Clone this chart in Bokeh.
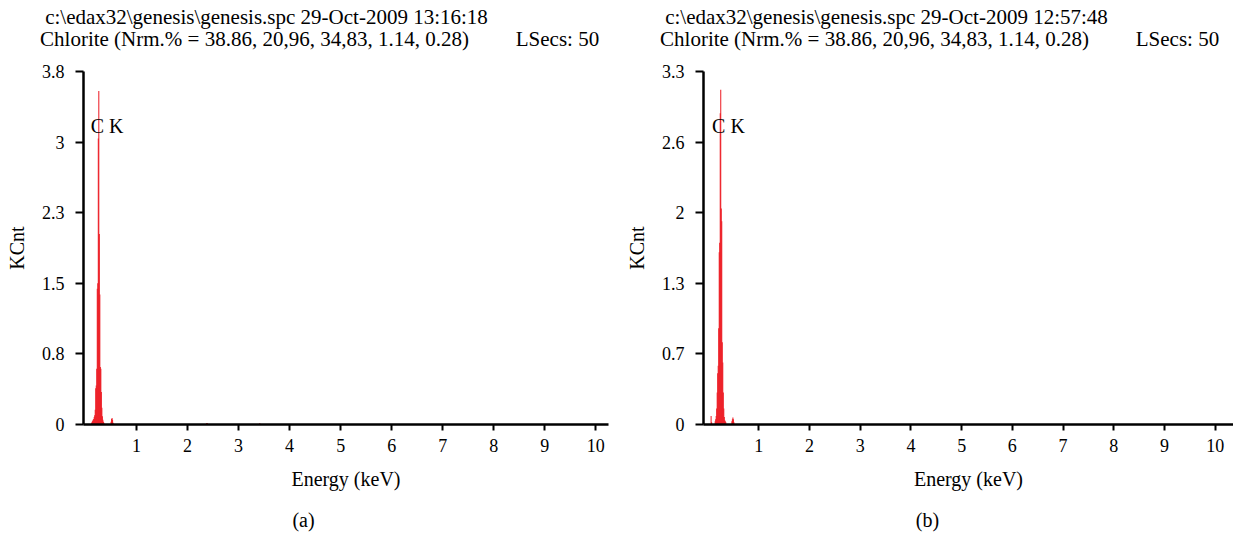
from bokeh.plotting import figure
from bokeh.models import FixedTicker, Label, Range1d, LinearAxis
from bokeh.layouts import row
from bokeh.embed import file_html
from bokeh.resources import INLINE

FONT = "Liberation Serif"
RED = "#ed1c24"

header_a = "c:\\edax32\\genesis\\genesis.spc 29-Oct-2009 13:16:18"
header_b = "c:\\edax32\\genesis\\genesis.spc 29-Oct-2009 12:57:48"
subtitle = "Chlorite (Nrm.% = 38.86, 20,96, 34,83, 1.14, 0.28)"
lsecs = "LSecs: 50"
x_title = "Energy (keV)"
y_title = "KCnt"
peak_label = "C K"

x_ticks = [1, 2, 3, 4, 5, 6, 7, 8, 9, 10]
y_ticks_a = [0, 0.76, 1.52, 2.28, 3.04, 3.8]
y_labels_a = ["0", "0.8", "1.5", "2.3", "3", "3.8"]
y_ticks_b = [0, 0.66, 1.32, 1.98, 2.64, 3.3]
y_labels_b = ["0", "0.7", "1.3", "2", "2.6", "3.3"]

# spectrum (a): channel energy (keV) and counts (KCnt)
energy_a = [0.12, 0.13, 0.14, 0.15, 0.16, 0.17, 0.18, 0.19, 0.20, 0.21,
            0.22, 0.23, 0.24, 0.25, 0.26, 0.27, 0.28, 0.29, 0.30, 0.31,
            0.32, 0.33, 0.34, 0.35, 0.36,
            0.50, 0.51, 0.52, 0.53, 0.54,
            2.37, 2.38, 2.39, 3.41, 3.42]
kcnt_a = [0.02, 0.03, 0.04, 0.05, 0.06, 0.08, 0.10, 0.16, 0.39, 0.42,
          0.60, 1.46, 1.52, 3.08, 3.59, 2.05, 1.40, 0.62, 0.60, 0.35,
          0.18, 0.09, 0.05, 0.03, 0.02,
          0.03, 0.06, 0.07, 0.05, 0.02,
          0.01, 0.015, 0.01, 0.01, 0.012]

# spectrum (b)
energy_b = [0.06, 0.07,
            0.14, 0.15, 0.16, 0.17, 0.18, 0.19, 0.20, 0.21, 0.22, 0.23,
            0.24, 0.25, 0.26, 0.27, 0.28, 0.29, 0.30, 0.31, 0.32, 0.33,
            0.34, 0.35,
            0.47, 0.48, 0.49, 0.50, 0.51]
kcnt_b = [0.08, 0.02,
          0.03, 0.05, 0.08, 0.15, 0.30, 0.48, 0.55, 0.90, 1.61, 1.70,
          2.91, 3.13, 2.02, 1.90, 0.77, 0.58, 0.30, 0.15, 0.07, 0.04,
          0.03, 0.02,
          0.03, 0.05, 0.065, 0.05, 0.02]

H = 533
LEFT = 83
TOP = 71
BOTTOM = 109


def text_axis(p, ticks, texts, standoff, size="21px", loc="above"):
    """An axis without line/ticks that only shows given texts (pixel range)."""
    ax = LinearAxis(x_range_name="px", ticker=FixedTicker(ticks=ticks, minor_ticks=[]))
    ax.major_label_overrides = dict(zip(ticks, texts))
    ax.axis_line_color = None
    ax.major_tick_line_color = None
    ax.minor_tick_line_color = None
    ax.major_tick_in = 0
    ax.major_tick_out = 0
    ax.minor_tick_in = 0
    ax.minor_tick_out = 0
    ax.major_label_standoff = standoff
    ax.major_label_text_font = FONT
    ax.major_label_text_font_size = size
    ax.major_label_text_color = "black"
    ax.major_label_text_align = "center"
    p.add_layout(ax, loc)
    return ax


def panel(width, right, x0, xr, ymax, yticks, ylabels, energy, kcnt,
          header, caption, ck_xy, head_cx, sub_cx, lsecs_cx, cap_cx):
    p = figure(width=width, height=H, x_range=Range1d(*xr),
               y_range=Range1d(0, ymax), output_backend="svg",
               toolbar_location=None, title=None,
               min_border_left=LEFT, min_border_right=right,
               min_border_top=TOP, min_border_bottom=BOTTOM)
    # page-pixel range spanning the frame, used to place the text rows
    p.extra_x_ranges = {"px": Range1d(x0 + LEFT, x0 + width - right)}
    p.grid.visible = False
    p.outline_line_color = None
    p.background_fill_color = "white"
    p.border_fill_color = "white"

    p.vbar(x=energy, top=kcnt, bottom=0, width=0.02,
           fill_color=RED, line_color=None)

    for ax in (p.xaxis[0], p.yaxis[0]):
        ax.axis_line_width = 2.5
        ax.axis_line_color = "black"
        ax.major_tick_line_width = 2
        ax.major_tick_line_color = "black"
        ax.major_tick_in = 0
        ax.minor_tick_line_color = None
        ax.minor_tick_in = 0
        ax.minor_tick_out = 0
        ax.major_label_text_font = FONT
        ax.major_label_text_font_size = "18px"
        ax.major_label_text_color = "black"
        ax.axis_label_text_font = FONT
        ax.axis_label_text_font_size = "20px"
        ax.axis_label_text_font_style = "normal"
        ax.axis_label_text_color = "black"

    p.xaxis.ticker = FixedTicker(ticks=x_ticks, minor_ticks=[])
    p.xaxis.major_tick_out = 6
    p.xaxis.major_label_standoff = 8
    p.xaxis.axis_label = x_title
    p.xaxis.axis_label_standoff = 13

    p.yaxis.ticker = FixedTicker(ticks=yticks, minor_ticks=[])
    p.yaxis.major_label_overrides = dict(zip(yticks, ylabels))
    p.yaxis.major_tick_out = 8
    p.yaxis.major_label_standoff = 11
    p.yaxis.axis_label = y_title
    p.yaxis.axis_label_standoff = 11

    # header rows (nearest to frame first)
    text_axis(p, [sub_cx, lsecs_cx], [subtitle, lsecs], 21)
    text_axis(p, [head_cx], [header], -5)
    # caption below the x axis title
    text_axis(p, [cap_cx], [caption], 16, size="20px", loc="below")

    p.add_layout(Label(x=ck_xy[0], y=ck_xy[1], text=peak_label,
                       text_align="left", text_baseline="alphabetic",
                       text_font=FONT, text_font_size="20px",
                       text_color="black"))
    return p


pa = panel(620, 12, 0, (-0.04, 10.25), 3.8, y_ticks_a, y_labels_a,
           energy_a, kcnt_a, header_a, "(a)", (0.10, 3.21),
           266, 254, 557, 303)
pb = panel(613, 0, 620, (-0.09, 10.36), 3.3, y_ticks_b, y_labels_b,
           energy_b, kcnt_b, header_b, "(b)", (0.08, 2.79),
           886, 874, 1177, 927)

layout = row(pa, pb, spacing=0)
open("out.html", "w").write(file_html(layout, INLINE))
